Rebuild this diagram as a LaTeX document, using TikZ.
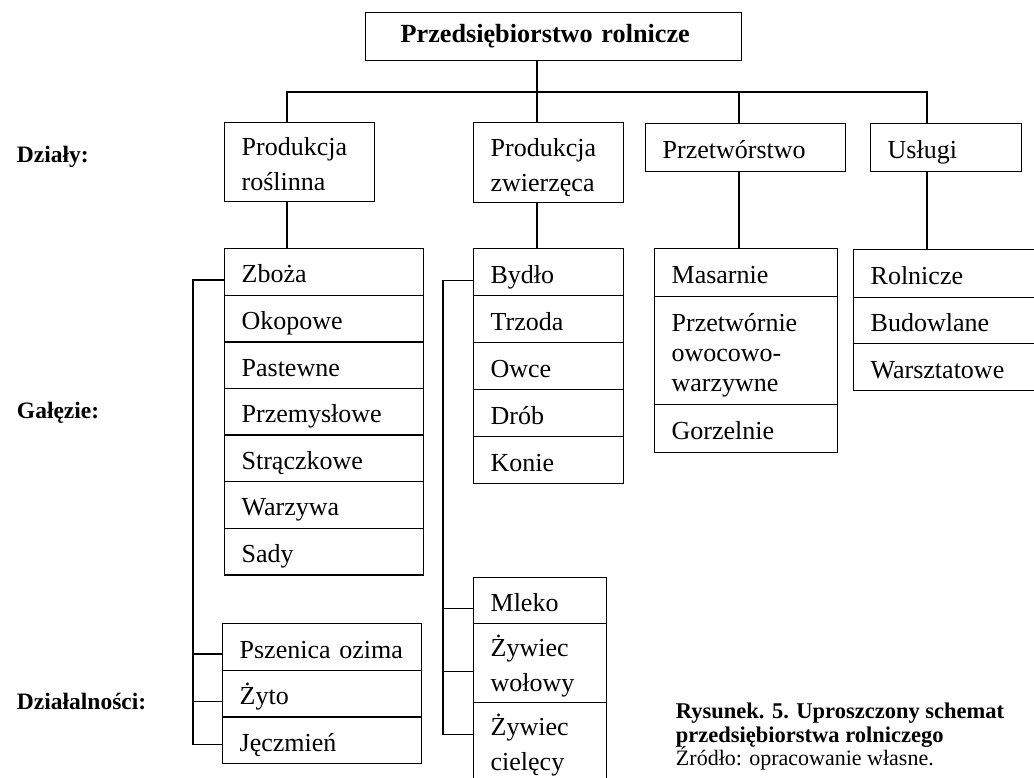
\documentclass[tikz,border=0pt]{standalone}
\usepackage{fontspec}
\setmainfont{Liberation Serif}
\setlength{\parindent}{0pt}
\newcommand{\cellstrut}{\rule[-6pt]{0pt}{34pt}}

\begin{document}
\begin{tikzpicture}[x=1pt,y=-1pt,line width=1.3pt,
    font=\fontsize{26}{30}\selectfont,
    cell/.style={draw,anchor=north west,align=left,inner xsep=17pt,inner ysep=0pt,
        execute at begin node=\cellstrut,execute at end node=\cellstrut},
    tier/.style={anchor=base west,font=\fontsize{23.5}{28}\selectfont\bfseries}]

    \useasboundingbox (0,0) rectangle (1034,777);

    % Enterprise
    \node [draw,anchor=north west,align=left,text width=306pt,minimum height=48pt,
        inner xsep=35pt,inner ysep=0pt,font=\fontsize{26.2}{30}\selectfont\bfseries]
        (firm) at (365,12) {Przedsiębiorstwo rolnicze};

    % Divisions
    \node [cell,text width=116pt,minimum height=79pt] (plant) at (224,122) {Produkcja\\roślinna};
    \node [cell,text width=116pt,minimum height=80pt] (animal) at (473,122) {Produkcja\\zwierzęca};
    \node [cell,text width=166pt,minimum height=48pt] (proc) at (645,123) {Przetwórstwo};
    \node [cell,text width=117pt,minimum height=48pt] (serv) at (870,123) {Usługi};

    % Branches: plant production
    \foreach \name/\txt [count=\i from 0] in {zb/Zboża,ok/Okopowe,pa/Pastewne,pm/Przemysłowe,st/Strączkowe,wa/Warzywa,sa/Sady}
        \node [cell,text width=165pt,minimum height=46.6pt] (\name) at (224,{248+46.6*\i}) {\txt};

    % Branches: animal production
    \foreach \name/\txt [count=\i from 0] in {by/Bydło,tr/Trzoda,ow/Owce,dr/Drób,ko/Konie}
        \node [cell,text width=116pt,minimum height=47pt] (\name) at (473,{248+47*\i}) {\txt};

    % Branches: processing
    \node [cell,text width=149pt,minimum height=48pt] (mas) at (654,248) {Masarnie};
    \node [cell,text width=149pt,minimum height=108pt] (owo) at (654,296) {Przetwórnie\\owocowo-\\warzywne};
    \node [cell,text width=149pt,minimum height=48pt] (gor) at (654,404) {Gorzelnie};

    % Branches: services
    \node [cell,text width=153pt,minimum height=48pt] (rol) at (853,249) {Rolnicze};
    \node [cell,text width=153pt,minimum height=46pt] (bud) at (853,297) {Budowlane};
    \node [cell,text width=153pt,minimum height=47pt] (war) at (853,343) {Warsztatowe};

    % Activities
    \foreach \name/\txt [count=\i from 0] in {ps/Pszenica ozima,zy/Żyto,je/Jęczmień}
        \node [cell,text width=165pt,minimum height=46.7pt] (\name) at (222,{623+46.7*\i}) {\txt};
    \node [cell,text width=99pt,minimum height=46pt] (ml) at (473,577) {Mleko};
    \node [cell,text width=99pt,minimum height=79pt] (zw) at (473,623) {Żywiec\\wołowy};
    \node [cell,text width=99pt,minimum height=79pt] (zc) at (473,702) {Żywiec\\cielęcy};

    % Level names
    \node [tier] (dzialy) at (13,162) {Działy:};
    \node [tier] (galezie) at (13,418) {Gałęzie:};
    \node [tier] (dzialalnosci) at (13,709) {Działalności:};

    % Caption
    \node [anchor=base west,font=\fontsize{22.5}{24}\selectfont\bfseries] (cap1) at (672,718) {Rysunek. 5. Uproszczony schemat};
    \node [anchor=base west,font=\fontsize{22.5}{24}\selectfont\bfseries] (cap2) at (672,742) {przedsiębiorstwa rolniczego};
    \node [anchor=base west,font=\fontsize{22}{24}\selectfont] (src) at (672,765) {Źródło: opracowanie własne.};

    % Stems and bar
    \coordinate (s1) at (287,92);
    \coordinate (s2) at (537,92);
    \coordinate (s3) at (739,92);
    \coordinate (s4) at (927,92);
    \draw (s2 |- firm.south) -- (s2);
    \draw (s1 |- plant.north) -- (s1) -- (s4) -- (s4 |- serv.north);
    \draw (s2) -- (s2 |- animal.north);
    \draw (s3) -- (s3 |- proc.north);
    \draw (s1 |- plant.south) -- (s1 |- zb.north);
    \draw (s2 |- animal.south) -- (s2 |- by.north);
    \draw (s3 |- proc.south) -- (s3 |- mas.north);
    \draw (s4 |- serv.south) -- (s4 |- rol.north);

    % Brackets
    \coordinate (rail1) at (193,0);
    \coordinate (rail2) at (443,0);
    \draw ([yshift=-8pt]zb.west) -| ([yshift=-4pt]je.west -| rail1) -- ([yshift=-4pt]je.west);
    \draw ([yshift=-7pt]ps.west) -- ([yshift=-7pt]ps.west -| rail1);
    \draw ([yshift=-8pt]zy.west) -- ([yshift=-8pt]zy.west -| rail1);
    \draw ([yshift=-8pt]by.west) -| ([yshift=8pt]zc.west -| rail2) -- ([yshift=8pt]zc.west);
    \draw ([yshift=-8pt]ml.west) -- ([yshift=-8pt]ml.west -| rail2);
    \draw ([yshift=-8pt]zw.west) -- ([yshift=-8pt]zw.west -| rail2);

\end{tikzpicture}
\end{document}
